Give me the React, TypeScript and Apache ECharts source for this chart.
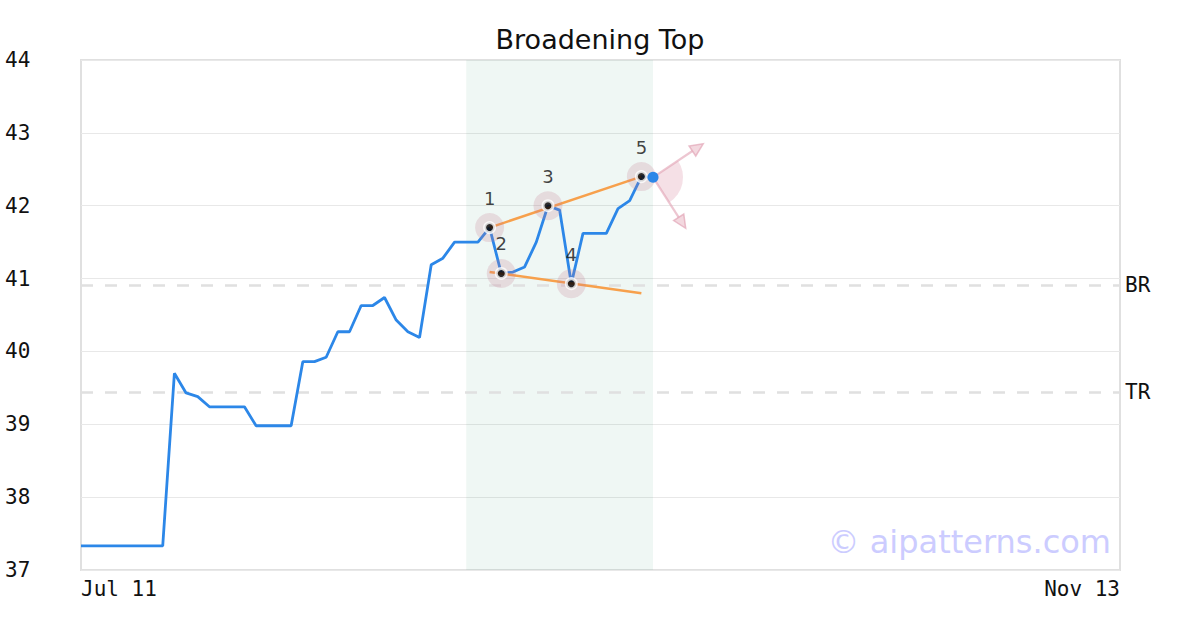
import React, { useEffect, useRef } from "react";
import * as echarts from "echarts";

// ---- data ----
const xTickLabels = ["Jul 11", "Nov 13"];
const totalSlots = 89; // trading-day slots from first to last tick
const prices = [
  37.33, 37.33, 37.33, 37.33, 37.33, 37.33, 37.33, 37.33,
  39.7, 39.43, 39.38, 39.24, 39.24, 39.24, 39.24,
  38.98, 38.98, 38.98, 38.98,
  39.86, 39.86, 39.92, 40.27, 40.27, 40.63, 40.63, 40.74,
  40.43, 40.27, 40.19, 41.19, 41.28, 41.5, 41.5, 41.5,
  41.7, 41.07, 41.09, 41.16, 41.5, 42.0, 41.94, 40.93,
  41.62, 41.62, 41.62, 41.96, 42.07, 42.4, 42.39,
];
const pivotIdx = [35, 36, 40, 42, 48];
const pivotLabels = ["1", "2", "3", "4", "5"];
const upperTrend = [[35, 41.7], [48, 42.4]];
const lowerTrend = [[35, 41.09], [48, 40.8]];
const patternRange = [33, 49];
const levelNames = ["BR", "TR"];
const levelValues = [40.91, 39.44];
const arrowTargets = [[53.3, 42.85], [51.8, 41.69]];
const yMin = 37;
const yMax = 44;

const MONO = "'DejaVu Sans Mono', monospace";
const SANS = "'DejaVu Sans', sans-serif";

export default function App() {
  const ref = useRef<HTMLDivElement>(null);
  useEffect(() => {
    if (!ref.current) return;
    const chart = echarts.init(ref.current, undefined, { renderer: "svg" });
    const lineData = prices.map((v, i) => [i, v]);
    const lastIdx = prices.length - 1;
    const pivotData = pivotIdx.map((i, k) => ({ value: [i, prices[i]], label: pivotLabels[k] }));

    const option: any = {
      animation: false,
      backgroundColor: "#ffffff",
      title: {
        text: "Broadening Top",
        left: "center",
        top: 21,
        textStyle: { fontFamily: SANS, fontSize: 27, fontWeight: "normal", color: "#111" },
      },
      grid: {
        left: 81, right: 80, top: 60, bottom: 60,
        show: true, borderColor: "#e0e0e0", borderWidth: 2, backgroundColor: "transparent",
      },
      xAxis: {
        type: "value",
        min: 0,
        max: totalSlots,
        interval: totalSlots,
        axisLine: { show: false },
        axisTick: { show: false },
        splitLine: { show: false },
        axisLabel: {
          fontFamily: MONO, fontSize: 21, color: "#111", margin: 8,
          showMinLabel: true, showMaxLabel: true,
          alignMinLabel: "left", alignMaxLabel: "right",
          formatter: (v: number) => (v === 0 ? xTickLabels[0] : xTickLabels[1]),
        },
      },
      yAxis: {
        type: "value",
        min: yMin,
        max: yMax,
        interval: 1,
        axisLine: { show: false },
        axisTick: { show: false },
        splitLine: { show: true, lineStyle: { color: "#e8e8e8", width: 1 } },
        axisLabel: { fontFamily: MONO, fontSize: 21, color: "#111", align: "left", margin: 76 },
      },
      graphic: [
        {
          type: "text",
          x: 1111,
          y: 542,
          z: 1,
          style: {
            text: "© aipatterns.com",
            fontFamily: SANS,
            fontSize: 32,
            fill: "#ccccff",
            textAlign: "right",
            textVerticalAlign: "middle",
          },
        },
      ],
      series: [
        {
          type: "line",
          data: [],
          z: 1,
          markArea: {
            silent: true,
            z: 1,
            itemStyle: { color: "rgba(0,128,80,0.063)" },
            data: [[{ xAxis: patternRange[0] }, { xAxis: patternRange[1] }]],
          },
          markLine: {
            silent: true,
            z: 1,
            symbol: "none",
            lineStyle: { color: "#e0e0e0", width: 2.5, type: [12, 12] },
            label: {
              position: "end", distance: 5, color: "#111", fontFamily: MONO, fontSize: 21,
              formatter: (p: any) => p.name,
            },
            data: levelNames.map((n, k) => ({ name: n, yAxis: levelValues[k] })),
          },
        },
        {
          type: "line",
          data: lineData,
          showSymbol: false,
          z: 3,
          lineStyle: { color: "#2c87e8", width: 2.8 },
        },
        {
          type: "line",
          data: upperTrend,
          showSymbol: false,
          z: 4,
          lineStyle: { color: "#f7a04c", width: 2.5 },
        },
        {
          type: "line",
          data: lowerTrend,
          showSymbol: false,
          z: 4,
          lineStyle: { color: "#f7a04c", width: 2.5 },
        },
        {
          type: "scatter",
          data: pivotData,
          symbolSize: 29,
          z: 5,
          itemStyle: { color: "rgba(195,120,145,0.28)" },
          label: {
            show: true, position: "top", distance: 6, color: "#111", fontFamily: SANS, fontSize: 18,
            formatter: (p: any) => p.data.label,
          },
        },
        {
          type: "scatter",
          data: pivotIdx.map((i) => [i, prices[i]]),
          symbolSize: 10,
          z: 6,
          itemStyle: { color: "#000", borderColor: "#fff", borderWidth: 3 },
        },
        {
          type: "custom",
          z: 7,
          data: [[lastIdx, prices[lastIdx]]],
          renderItem: (params: any, api: any) => {
            const c = api.coord([api.value(0), api.value(1)]);
            const children: any[] = [];
            const pts = arrowTargets.map((t) => api.coord(t));
            const angs = pts.map((p: number[]) => Math.atan2(p[1] - c[1], p[0] - c[0]));
            children.push({
              type: "sector",
              shape: { cx: c[0], cy: c[1], r0: 0, r: 30, startAngle: angs[0], endAngle: angs[1], clockwise: true },
              style: { fill: "rgba(215,130,155,0.25)" },
            });
            pts.forEach((p: number[], k: number) => {
              const a = angs[k];
              const hl = 13, hw = 6;
              const bx = p[0] - hl * Math.cos(a), by = p[1] - hl * Math.sin(a);
              children.push({
                type: "line",
                shape: { x1: c[0], y1: c[1], x2: bx, y2: by },
                style: { stroke: "rgba(225,160,178,0.6)", lineWidth: 2.2 },
              });
              children.push({
                type: "polygon",
                shape: {
                  points: [
                    [p[0], p[1]],
                    [bx + hw * Math.sin(a), by - hw * Math.cos(a)],
                    [bx - hw * Math.sin(a), by + hw * Math.cos(a)],
                  ],
                },
                style: { fill: "rgba(235,190,202,0.6)", stroke: "rgba(225,160,178,0.65)", lineWidth: 1.5 },
              });
            });
            children.push({
              type: "circle",
              shape: { cx: c[0], cy: c[1], r: 5.5 },
              style: { fill: "#2c87e8" },
            });
            return { type: "group", children };
          },
        },
      ],
    };
    chart.setOption(option);
    return () => chart.dispose();
  }, []);
  return (
    <div
      ref={ref}
      style={{ position: "fixed", left: 0, top: 0, width: 1200, height: 630, background: "#fff" }}
    />
  );
}
